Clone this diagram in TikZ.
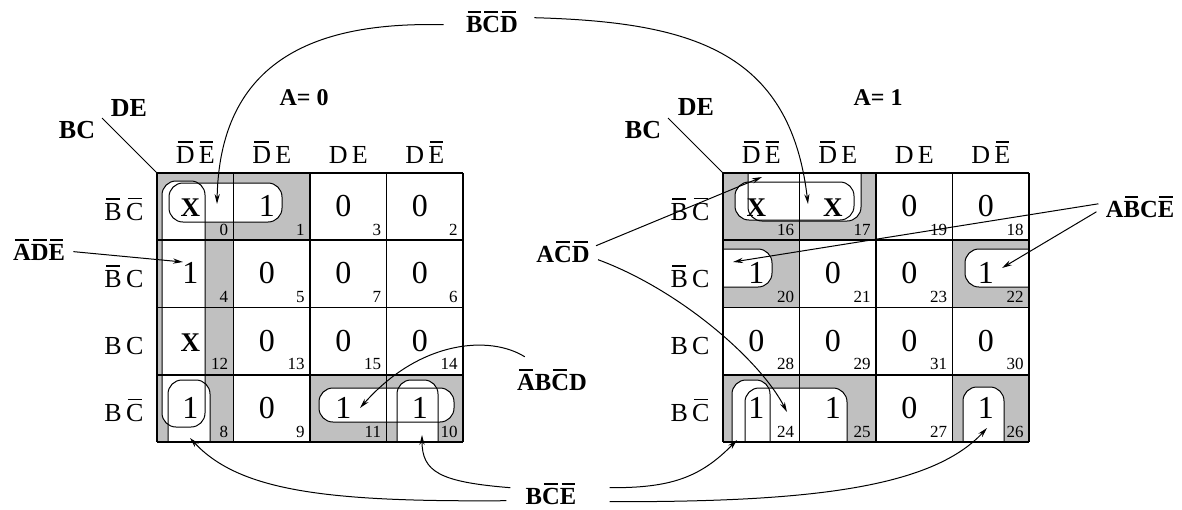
\documentclass[tikz,border=0pt]{standalone}
\usepackage{fontspec}
\setmainfont{Liberation Serif}
\usetikzlibrary{arrows.meta}
\definecolor{kmapgray}{HTML}{C0C0C0}
\newsavebox{\nbarbox}
\newcommand{\nbar}[1]{\sbox{\nbarbox}{#1}\rlap{\hspace{0.1\wd\nbarbox}\rule[\dimexpr\ht\nbarbox+0.13em\relax]{0.8\wd\nbarbox}{0.055em}}\usebox{\nbarbox}}
\newcommand{\kx}{{\fontsize{13.5}{15}\selectfont\bfseries X}}
% loop outlines (open ends run into the map edge)
\newcommand{\kloops}{%
  {(162,181) rectangle (205,427)},
  {(169,183) rectangle (282,222)},
  {(168,442) |- (210,380) -- (210,442)},
  {(319,388) rectangle (454,422)},
  {(397,442) |- (438,380) -- (438,442)},
  {(748,173) |- (861,221) -- (861,173)},
  {(735,182) rectangle (854,220)},
  {(723,249) -| (772,287) -- (723,287)},
  {(1029,249) -| (965,287) -- (1029,287)},
  {(732,442) |- (770,380) -- (770,442)},
  {(745,442) |- (847,388) -- (847,442)},
  {(963,442) |- (1004,387) -- (1004,442)}}

\begin{document}
\begin{tikzpicture}[x=0.5pt, y=-0.5pt, >={Stealth[length=5pt,width=2.6pt]},
  loopline/.style={line width=0.5pt, rounded corners=7pt},
  gridline/.style={line width=0.8pt},
  val/.style={anchor=base, inner sep=0pt, font=\fontsize{16}{18}\selectfont},
  num/.style={anchor=base east, inner sep=0pt, font=\fontsize{8.5}{10}\selectfont},
  varlbl/.style={anchor=base, inner sep=0pt, font=\fontsize{13}{15}\selectfont},
  axislbl/.style={anchor=base, inner sep=0pt, font=\fontsize{13}{15}\selectfont\bfseries},
  term/.style={anchor=base, inner sep=0pt, font=\fontsize{12.3}{14}\selectfont\bfseries},
  pointer/.style={->, line width=0.5pt}]
  \useasboundingbox (0,0) rectangle (1182,509);

  % Shaded cells
  \foreach \ox/\c/\r in {157/0/0,157/1/0,157/0/1,157/0/2,157/0/3,157/2/3,157/3/3,
                         723/0/0,723/1/0,723/0/1,723/3/1,723/0/3,723/1/3,723/3/3}
    \fill[kmapgray] ({\ox+76.5*\c},{173+67.25*\r}) rectangle ++(76.5,67.25);

  % Loops
  \foreach \p in \kloops \fill[white, rounded corners=7pt] \p;
  \foreach \p in \kloops \draw[loopline] \p;

  % Grids and headings
  \foreach \ox/\m in {157/l,723/r} {
    \foreach \i in {0,...,4} {
      \draw[gridline] ({\ox+76.5*\i},173) -- ++(0,269);
      \draw[gridline] (\ox,{173+67.25*\i}) -- ++(306,0);
    }
    \node[varlbl] (\m c0) at ({\ox+38.25},163) {\nbar{D}\,\nbar{E}};
    \node[varlbl] (\m c1) at ({\ox+114.75},163) {\nbar{D}\,E};
    \node[varlbl] (\m c2) at ({\ox+191.25},163) {D\,E};
    \node[varlbl] (\m c3) at ({\ox+267.75},163) {D\,\nbar{E}};
    \node[varlbl] (\m r0) at ({\ox-33},220) {\nbar{B}\,\nbar{C}};
    \node[varlbl] (\m r1) at ({\ox-33},287) {\nbar{B}\,C};
    \node[varlbl] (\m r2) at ({\ox-33},354) {B\,C};
    \node[varlbl] (\m r3) at ({\ox-33},421) {B\,\nbar{C}};
  }

  % Cell entries and minterm numbers
  \foreach \n/\v/\c/\r in {0/\kx/0/0,1/1/1/0,3/0/2/0,2/0/3/0,
                           4/1/0/1,5/0/1/1,7/0/2/1,6/0/3/1,
                           12/\kx/0/2,13/0/1/2,15/0/2/2,14/0/3/2,
                           8/1/0/3,9/0/1/3,11/1/2/3,10/1/3/3,
                           16/\kx/0/0,17/\kx/1/0,19/0/2/0,18/0/3/0,
                           20/1/0/1,21/0/1/1,23/0/2/1,22/1/3/1,
                           28/0/0/2,29/0/1/2,31/0/2/2,30/0/3/2,
                           24/1/0/3,25/1/1/3,27/0/2/3,26/1/3/3} {
    \pgfmathsetmacro{\ox}{\n<16 ? 157 : 723}
    \node[val] (v\n) at ({\ox+76.5*\c+33.25},{173+67.25*\r+43.6}) {\v};
    \node[num] (n\n) at ({\ox+76.5*(\c+1)-5},{173+67.25*(\r+1)-5}) {\n};
  }

  % Map corner labels
  \node[axislbl] (lbc) at (77,138) {BC};
  \node[axislbl] (lde) at (129,116) {DE};
  \node[axislbl] (rbc) at (643,138) {BC};
  \node[axislbl] (rde) at (696,115) {DE};
  \coordinate (ldiag) at (102,118);
  \coordinate (lcorner) at (157,173);
  \coordinate (rdiag) at (668,118);
  \coordinate (rcorner) at (723,173);
  \draw[line width=0.5pt] (ldiag) -- (lcorner);
  \draw[line width=0.5pt] (rdiag) -- (rcorner);
  \node[term, font=\fontsize{12}{14}\selectfont\bfseries] (a0) at (304,105) {A= 0};
  \node[term, font=\fontsize{12}{14}\selectfont\bfseries] (a1) at (878,105) {A= 1};

  % Term labels
  \node[term] (bcd) at (492,32) {\nbar{B}\nbar{C}\nbar{D}};
  \node[term] (ade) at (39,260) {\nbar{A}\nbar{D}\nbar{E}};
  \node[term] (acd) at (563,262) {A\nbar{C}\nbar{D}};
  \node[term] (abce) at (1140,217) {A\nbar{B}C\nbar{E}};
  \node[term] (abcd) at (552,390) {\nbar{A}B\nbar{C}D};
  \node[term] (bce) at (551,504) {B\nbar{C}\nbar{E}};

  % Arrow tips
  \coordinate (tip0) at (217,204);
  \coordinate (tip17) at (808,204);
  \coordinate (tip4) at (183,262);
  \coordinate (tip16) at (762,177);
  \coordinate (tip24a) at (787,412);
  \coordinate (tip20) at (733,262);
  \coordinate (tip22) at (1002,268);
  \coordinate (tip11) at (360,408);
  \coordinate (tip10) at (422,435);
  \coordinate (tip8) at (190,438);
  \coordinate (tip24) at (737,440);
  \coordinate (tip26) at (987,428);

  % Pointers
  \draw[pointer] ([xshift=-11pt, yshift=-1.5pt]bcd.west) .. controls (330,22) and (220,50) .. (tip0);
  \draw[pointer] ([xshift=8pt, yshift=2pt]bcd.east) .. controls (690,22) and (790,50) .. (tip17);
  \draw[pointer] ([xshift=4pt, yshift=-1pt]ade.east) -- (tip4);
  \draw[pointer] ([xshift=3pt, yshift=3pt]acd.east) -- (tip16);
  \draw[pointer] ([xshift=4pt, yshift=-4pt]acd.east) .. controls (680,290) and (760,360) .. (tip24a);
  \draw[pointer] ([xshift=-3.5pt, yshift=1.5pt]abce.west) -- (tip20);
  \draw[pointer] ([xshift=-4.5pt, yshift=-2.5pt]abce.west) -- (tip22);
  \draw[pointer] ([xshift=4pt, yshift=6pt]abcd.north west) .. controls (490,335) and (420,340) .. (tip11);
  \draw[pointer] ([xshift=-7.5pt, yshift=3pt]bce.west) .. controls (440,482) and (422,472) .. (tip10);
  \draw[pointer] ([xshift=-9.5pt, yshift=-3.5pt]bce.west) .. controls (330,502) and (240,492) .. (tip8);
  \draw[pointer] ([xshift=16.5pt, yshift=3pt]bce.east) .. controls (670,488) and (700,478) .. (tip24);
  \draw[pointer] ([xshift=16.5pt, yshift=-4pt]bce.east) .. controls (800,502) and (930,490) .. (tip26);
\end{tikzpicture}
\end{document}
